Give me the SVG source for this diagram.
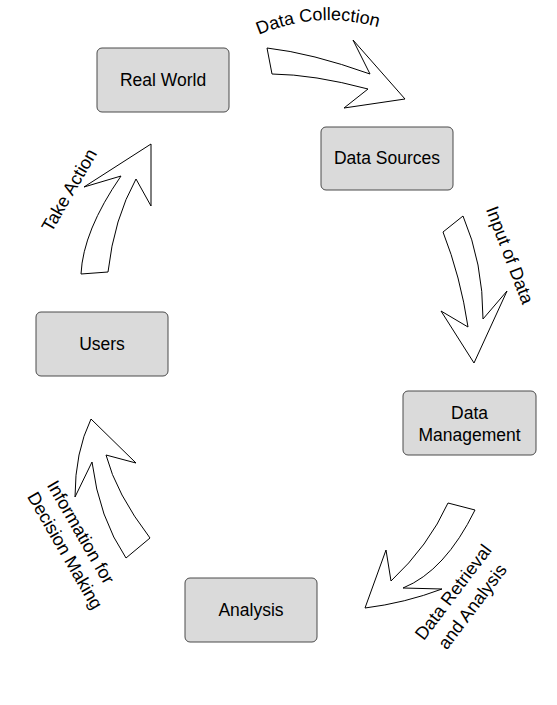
<svg xmlns="http://www.w3.org/2000/svg" width="557" height="705" viewBox="0 0 557 705">
<style>
.node rect{fill:#dadada;stroke:#4a4a4a;stroke-width:1}
.node text{font-family:"Liberation Sans",Arial,sans-serif;font-size:17.5px;fill:#000;text-anchor:middle}
.arrow{fill:#fff;stroke:#000;stroke-width:1;stroke-linejoin:miter}
.lbl{font-family:"Liberation Sans",Arial,sans-serif;font-size:18px;fill:#000}
</style>
<defs>
<path id="arcDC" d="M 238,45 Q 318,1 400,35"/>
</defs>
<rect width="557" height="705" fill="#fff"/>
<g id="connectors">
<path class="arrow" d="M 267,48 Q 311.5,53 370,74 L 353,40 L 405,99 L 344,108 L 368,89 Q 314,74.5 272,74 Z"/>
<path class="arrow" d="M 443,232 Q 460.5,276.5 468,327 L 441,311 L 474,363 L 507,291 L 483,319 Q 483,262.5 463,216 Z"/>
<path class="arrow" d="M 448,503 Q 428.5,546 391,581 L 386,550 L 365,608 Q 405,603 442,589 L 403,588 Q 445,571 475,510 Z"/>
<path class="arrow" d="M 91,419 L 136,463 L 106,455 Q 116,493.5 150,538 L 126,558 Q 99,518 92,462 L 75,497 Q 75,452 91,419 Z"/>
<path class="arrow" d="M 81,274 Q 83,231 121,176 L 84,187 L 151,144 L 151,206 L 136,179 Q 114,218.5 108,272 Z"/>
<text class="lbl" text-anchor="middle"><textPath href="#arcDC" startOffset="50%">Data Collection</textPath></text>
<text class="lbl" text-anchor="middle" transform="translate(510,255) rotate(69)" dy="0.35em">Input of Data</text>
<g transform="translate(453,592) rotate(-53)">
<text class="lbl" text-anchor="middle" dy="0.35em">Data Retrieval</text>
<text class="lbl" text-anchor="middle" y="24" dy="0.35em">and Analysis</text>
</g>
<g transform="translate(81,532) rotate(60)">
<text class="lbl" x="-58" dy="0.35em">Information for</text>
<text class="lbl" x="-58" y="23" dy="0.35em">Decision Making</text>
</g>
<text class="lbl" text-anchor="middle" transform="translate(69,190) rotate(-60)" dy="0.35em">Take Action</text>
</g>
<g id="real-world" class="node"><rect x="97" y="48" width="132" height="64" rx="5"/><text x="163" y="86">Real World</text></g>
<g id="data-sources" class="node"><rect x="321" y="127" width="132" height="63" rx="5"/><text x="387" y="164">Data Sources</text></g>
<g id="data-management" class="node"><rect x="403" y="391" width="133" height="64" rx="5"/><text x="469.5" y="419">Data</text><text x="469.5" y="441">Management</text></g>
<g id="analysis" class="node"><rect x="185" y="578" width="132" height="64" rx="5"/><text x="251" y="616">Analysis</text></g>
<g id="users" class="node"><rect x="36" y="312" width="132" height="64" rx="5"/><text x="102" y="350">Users</text></g>
</svg>
